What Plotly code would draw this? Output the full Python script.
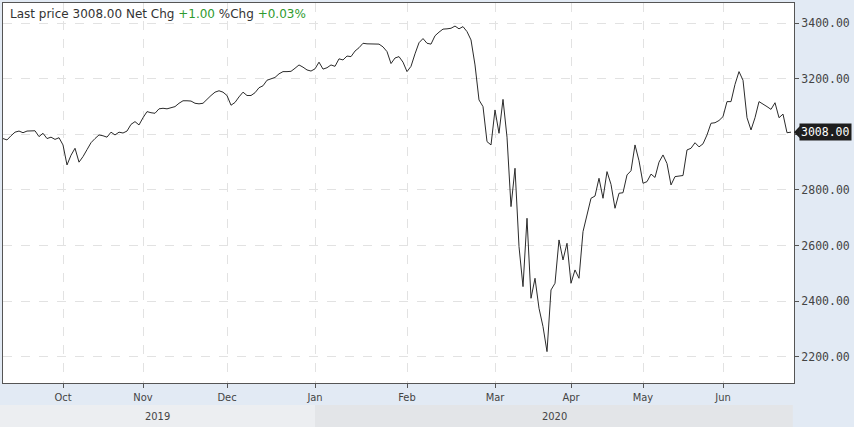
import plotly.graph_objects as go

# price values per month segment (one value per sample)
sep_vals = [2985, 2980, 2995, 3008, 3012, 3006, 3012, 3013, 3013, 2992, 3004, 2985, 2990, 2982, 2988]
oct_vals = [2962, 2890, 2925, 2950, 2900, 2920, 2945, 2970, 2985, 2998, 2995, 2990, 3008, 2998, 3008,
            3005, 3012, 3036, 3046, 3034]
nov_vals = [3060, 3082, 3078, 3076, 3092, 3094, 3092, 3095, 3100, 3112, 3121, 3121, 3120, 3112, 3110,
            3112, 3128, 3140, 3152, 3157, 3152]
dec_vals = [3140, 3105, 3115, 3135, 3152, 3140, 3140, 3150, 3168, 3175, 3195, 3200, 3205, 3218, 3226,
            3226, 3227, 3238, 3250, 3242, 3232, 3228]
jan_vals = [3236, 3260, 3235, 3240, 3250, 3245, 3272, 3268, 3282, 3280, 3300, 3312, 3328, 3326, 3325,
            3325, 3325, 3315, 3298, 3255, 3275, 3280, 3260]
feb_vals = [3226, 3245, 3290, 3330, 3345, 3328, 3325, 3355, 3368, 3379, 3380, 3382, 3390, 3380, 3388,
            3370, 3340, 3250, 3124, 3100, 2974, 2962]
mar_vals = [3088, 3004, 3126, 2990, 2740, 2878, 2596, 2452, 2698, 2410, 2482, 2374, 2308, 2218, 2440,
            2464, 2620, 2548, 2608]
apr_vals = [2464, 2512, 2482, 2650, 2716, 2770, 2778, 2842, 2770, 2866, 2820, 2734, 2788, 2790, 2854,
            2869, 2962, 2905]
may_vals = [2824, 2830, 2857, 2845, 2900, 2926, 2895, 2818, 2848, 2850, 2852, 2944, 2950, 2970, 2955,
            2966, 2998, 3040, 3042, 3050]
jun_vals = [3064, 3118, 3118, 3180, 3226, 3195, 3060, 3016, 3060, 3118, 3110, 3100, 3090, 3114, 3060,
            3073, 3006, 3008]

segments = [sep_vals, oct_vals, nov_vals, dec_vals, jan_vals, feb_vals, mar_vals, apr_vals, may_vals, jun_vals]
month_labels = ["Oct", "Nov", "Dec", "Jan", "Feb", "Mar", "Apr", "May", "Jun"]
year_labels = ["2019", "2020"]
y_ticks = [2200, 2400, 2600, 2800, 3000, 3200, 3400]
last_price = 3008.00
net_chg = 1.00
pct_chg = 0.03

values = [v for seg in segments for v in seg]
xs = list(range(len(values)))
month_starts = []
pos = 0
for seg in segments[:-1]:
    pos += len(seg)
    month_starts.append(pos)

jan_idx = month_starts[3]
x_max = len(values) - 0.25
jan_paper = jan_idx / x_max

fig = go.Figure()
fig.add_trace(go.Scatter(x=xs, y=values, mode="lines",
                         line=dict(color="#2b2b2b", width=1), hoverinfo="skip"))

BG = "#e2eaf4"
fig.update_layout(
    width=854, height=427,
    margin=dict(l=3, r=60, t=3, b=44),
    paper_bgcolor=BG, plot_bgcolor="white",
    showlegend=False,
    font=dict(family="DejaVu Sans", size=11, color="#444"),
)
fig.update_xaxes(
    range=[0, x_max],
    tickvals=month_starts, ticktext=month_labels,
    ticks="outside", ticklen=4, tickcolor="#555",
    tickfont=dict(family="DejaVu Sans Condensed, DejaVu Sans", size=11, color="#444"),
    showgrid=True, gridcolor="#e2e2e2", griddash="dash", gridwidth=1,
    showline=True, linecolor="#555", linewidth=1, mirror=True,
    zeroline=False,
)
# the 3000 label sits under the last-price badge, so it is left blank
fig.update_yaxes(
    side="right", range=[2105, 3473],
    tickvals=y_ticks,
    ticktext=["" if v == 3000 else f"{v:.2f}" for v in y_ticks],
    ticks="outside", ticklen=4, tickcolor="#555",
    tickfont=dict(family="DejaVu Sans Mono", size=11.5, color="#444"),
    showgrid=True, gridcolor="#e2e2e2", griddash="dash", gridwidth=1,
    showline=True, linecolor="#555", linewidth=1, mirror=True,
    zeroline=False,
)

# year band
band_y0, band_y1 = -0.058, -0.13
band_mid = (band_y0 - 0.12) / 2
fig.add_shape(type="rect", xref="paper", yref="paper", x0=-0.01, x1=jan_paper, y0=band_y1, y1=band_y0,
              fillcolor="#eceef1", line=dict(width=0), layer="below")
fig.add_shape(type="rect", xref="paper", yref="paper", x0=jan_paper, x1=0.9985, y0=band_y1, y1=band_y0,
              fillcolor="#e3e5e8", line=dict(width=0), layer="below")
fig.add_annotation(xref="paper", yref="paper", x=(jan_paper - 0.004) / 2, y=band_mid,
                   xanchor="center", yanchor="middle",
                   text=year_labels[0], showarrow=False,
                   font=dict(family="DejaVu Sans Condensed, DejaVu Sans", size=11, color="#444"))
fig.add_annotation(xref="paper", yref="paper", x=(jan_paper + 1.0) / 2, y=band_mid,
                   xanchor="center", yanchor="middle",
                   text=year_labels[1], showarrow=False,
                   font=dict(family="DejaVu Sans Condensed, DejaVu Sans", size=11, color="#444"))

# last price badge
fig.add_annotation(xref="paper", yref="y", x=1.0, y=last_price, xanchor="left", yanchor="middle",
                   xshift=5, text=f"{last_price:.2f}", showarrow=False, bgcolor="#1e1e1e",
                   borderpad=1, font=dict(family="DejaVu Sans Mono", size=11.5, color="white"))
fig.add_shape(type="path", xref="paper", yref="y",
              path=f"M 1.0 {last_price} L 1.0075 {last_price + 22} L 1.0075 {last_price - 22} Z",
              fillcolor="#1e1e1e", line=dict(width=0))

# header
green = "#2e9a2e"
header = (f"Last price {last_price:.2f} Net Chg "
          f"<span style='color:{green}'>+{net_chg:.2f}</span> %Chg "
          f"<span style='color:{green}'>+{pct_chg:.2f}%</span>")
fig.add_annotation(xref="paper", yref="paper", x=0.006, y=0.995, xanchor="left", yanchor="top",
                   text=header, showarrow=False,
                   font=dict(family="DejaVu Sans", size=12, color="#333"))

fig.write_html("out.html", config={"displayModeBar": False},
               post_script="document.body.style.margin='0';")
